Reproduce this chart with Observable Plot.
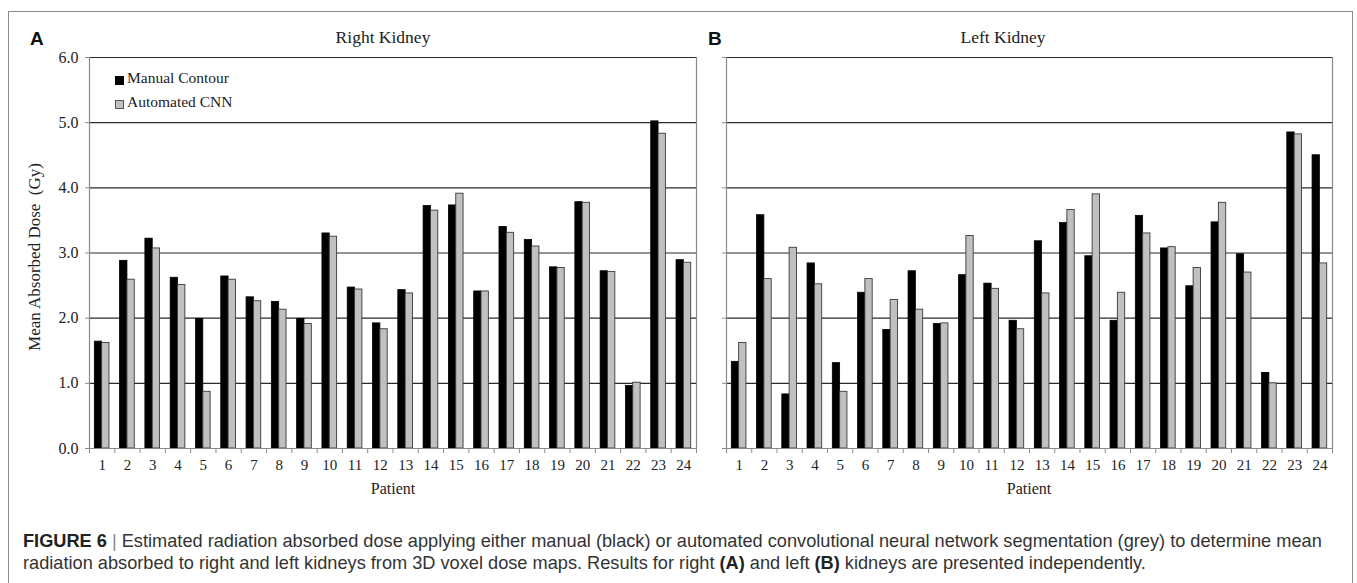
<!DOCTYPE html>
<html>
<head>
<meta charset="utf-8">
<script src="https://cdn.jsdelivr.net/npm/d3@7"></script>
<script src="https://cdn.jsdelivr.net/npm/@observablehq/plot@0.6"></script>
<style>
  html, body { margin: 0; padding: 0; background: #fff; }
  #wrap { position: relative; width: 1357px; height: 583px; overflow: hidden; background: #fff; }
  .abs { position: absolute; }
  .serif { font-family: "Liberation Serif", "Times New Roman", serif; color: #222; }
  .panel-letter { font-family: "Liberation Sans", Arial, sans-serif; font-weight: bold; font-size: 19px; color: #111; }
  #frame { left: 8px; top: 11px; width: 1343px; height: 640px; border: 1px solid #8a8a8a; }
  .legsq { position: absolute; width: 7px; height: 7px; }
  #caption { left: 23px; top: 530px; font-family: "Liberation Sans Narrow", "Liberation Sans", Arial, sans-serif; font-size: 18.2px; line-height: 22px; color: #333; white-space: nowrap; }
  #caption b { color: #222; }
  .sep { color: #888; }
</style>
</head>
<body>
<div id="wrap">
  <div id="frame" class="abs"></div>
  <div id="left" class="abs" style="left:0;top:0"></div>
  <div id="right" class="abs" style="left:700px;top:0"></div>
  <div class="abs panel-letter" style="left:30px;top:28px">A</div>
  <div class="abs panel-letter" style="left:708px;top:28px">B</div>
  <div class="abs serif" style="left:283px;top:27px;width:200px;text-align:center;font-size:17.5px">Right Kidney</div>
  <div class="abs serif" style="left:903px;top:27px;width:200px;text-align:center;font-size:17.5px">Left Kidney</div>
  <div class="abs serif" style="left:35px;top:257px;font-size:17px;white-space:pre;transform:translate(-50%,-50%) rotate(-90deg)">Mean Absorbed Dose  (Gy)</div>
  <div class="abs serif" style="left:293px;top:480px;width:200px;text-align:center;font-size:16px">Patient</div>
  <div class="abs serif" style="left:929px;top:480px;width:200px;text-align:center;font-size:16px">Patient</div>
  <div class="legsq" style="left:115px;top:76px;background:#000;border:1px solid #000"></div>
  <div class="abs serif" style="left:127px;top:69px;font-size:15.5px">Manual Contour</div>
  <div class="legsq" style="left:115px;top:100px;background:#c0c0c0;border:1px solid #555"></div>
  <div class="abs serif" style="left:127px;top:93px;font-size:15.5px">Automated CNN</div>
  <div id="caption" class="abs"><b>FIGURE 6</b> <span class="sep">|</span> Estimated radiation absorbed dose applying either manual (black) or automated convolutional neural network segmentation (grey) to determine mean<br>radiation absorbed to right and left kidneys from 3D voxel dose maps. Results for right <b>(A)</b> and left <b>(B)</b> kidneys are presented independently.</div>
</div>
<script>
const patients = [1,2,3,4,5,6,7,8,9,10,11,12,13,14,15,16,17,18,19,20,21,22,23,24];
const seriesNames = ["Manual Contour", "Automated CNN"];
const rightKidneyManual = [1.64,2.88,3.22,2.62,1.99,2.64,2.32,2.25,1.99,3.30,2.47,1.92,2.43,3.72,3.73,2.41,3.40,3.20,2.78,3.78,2.72,0.96,5.02,2.89];
const rightKidneyCNN    = [1.62,2.59,3.07,2.51,0.87,2.59,2.26,2.13,1.91,3.25,2.44,1.83,2.38,3.65,3.91,2.41,3.31,3.10,2.77,3.77,2.71,1.01,4.83,2.85];
const leftKidneyManual  = [1.33,3.58,0.83,2.84,1.31,2.39,1.82,2.72,1.91,2.66,2.53,1.96,3.18,3.46,2.95,1.96,3.57,3.07,2.49,3.47,2.98,1.16,4.85,4.50];
const leftKidneyCNN     = [1.62,2.60,3.08,2.52,0.87,2.60,2.28,2.13,1.92,3.26,2.45,1.83,2.38,3.66,3.90,2.39,3.30,3.09,2.77,3.77,2.70,1.00,4.82,2.84];
const yTicks = [0,1,2,3,4,5,6];

function panel(manual, cnn, showLabels, width, marginLeft, marginRight) {
  const data = patients.map((p, i) => ({patient: p, manual: manual[i], cnn: cnn[i]}));
  const edges = patients.map(p => p - 0.5).concat([patients[patients.length - 1] + 0.5]);
  const outer = [edges[0], edges[edges.length - 1]];
  const half = 0.29;
  return Plot.plot({
    width, height: 510, marginLeft, marginRight, marginTop: 57, marginBottom: 62,
    x: {domain: outer},
    y: {domain: [yTicks[0], yTicks[yTicks.length - 1]]},
    style: {fontFamily: '"Liberation Serif", "Times New Roman", serif', fontSize: "14.5px", color: "#222", background: "transparent", overflow: "visible"},
    marks: [
      Plot.ruleY(yTicks.filter(d => d > 0), {stroke: "#2a2a2a", strokeWidth: 1.1}),
      Plot.ruleX(outer, {stroke: "#8a8a8a", strokeWidth: 1.2}),
      Plot.rectY(data, {x1: d => d.patient - half, x2: d => d.patient, y1: d => 0, y2: "manual", fill: "#000", stroke: "#000", strokeWidth: 0.8}),
      Plot.rectY(data, {x1: d => d.patient, x2: d => d.patient + half, y1: d => 0, y2: "cnn", fill: "#c0c0c0", stroke: "#3a3a3a", strokeWidth: 0.9}),
      Plot.ruleY([0], {stroke: "#8a8a8a", strokeWidth: 1.2}),
      Plot.axisX(patients, {tickSize: 0, tickPadding: 11, label: null, fontSize: 15, tickFormat: d => String(d)}),
      Plot.axisX(edges, {tickSize: 5, tickFormat: () => "", label: null, stroke: "#8a8a8a"}),
      Plot.axisY(yTicks, {tickSize: 4, tickPadding: 7, label: null, stroke: "#8a8a8a", fontSize: 16,
        tickFormat: showLabels ? d3.format(".1f") : () => ""})
    ]
  });
}

document.getElementById("left").append(panel(rightKidneyManual, rightKidneyCNN, true, 700, 89, 4));
document.getElementById("right").append(panel(leftKidneyManual, leftKidneyCNN, false, 657, 26, 25));
</script>
</body>
</html>
